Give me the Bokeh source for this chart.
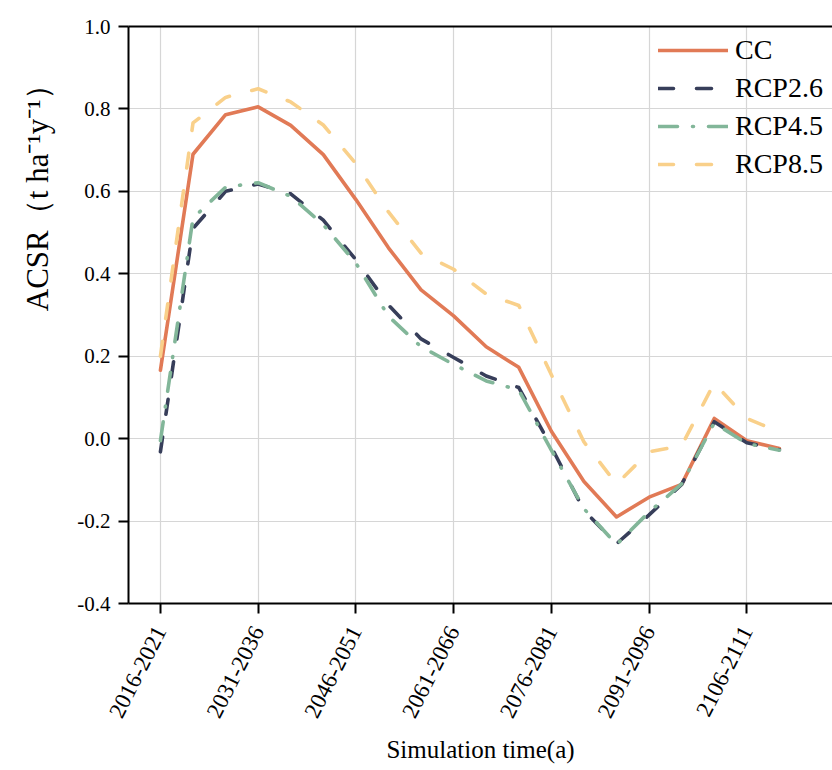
import math
from bokeh.plotting import figure
from bokeh.models import Range1d, FixedTicker, LinearAxis, Legend, LegendItem, ColumnDataSource, Title
from bokeh.embed import file_html
from bokeh.resources import INLINE

periods = ["2016-2021", "2021-2026", "2026-2031", "2031-2036", "2036-2041",
           "2041-2046", "2046-2051", "2051-2056", "2056-2061", "2061-2066",
           "2066-2071", "2071-2076", "2076-2081", "2081-2086", "2086-2091",
           "2091-2096", "2096-2101", "2101-2106", "2106-2111", "2111-2116"]
cc = [0.166, 0.69, 0.786, 0.805, 0.76, 0.689, 0.58, 0.463, 0.361, 0.298,
      0.223, 0.173, 0.018, -0.104, -0.19, -0.142, -0.111, 0.049, -0.005, -0.024]
rcp26 = [-0.032, 0.51, 0.60, 0.618, 0.594, 0.53, 0.434, 0.324, 0.242, 0.197,
         0.152, 0.124, -0.02, -0.174, -0.255, -0.185, -0.111, 0.041, -0.01, -0.027]
rcp45 = [-0.005, 0.535, 0.61, 0.621, 0.588, 0.519, 0.426, 0.297, 0.223, 0.18,
         0.14, 0.118, -0.028, -0.17, -0.257, -0.178, -0.11, 0.038, -0.012, -0.028]
rcp85 = [0.20, 0.766, 0.828, 0.849, 0.817, 0.761, 0.667, 0.55, 0.45, 0.411,
         0.351, 0.323, 0.155, -0.008, -0.11, -0.032, -0.017, 0.135, 0.049, 0.016]
series_names = ["CC", "RCP2.6", "RCP4.5", "RCP8.5"]
y_ticks = [-0.4, -0.2, 0.0, 0.2, 0.4, 0.6, 0.8, 1.0]
x_tick_idx = [0, 3, 6, 9, 12, 15, 18]

FONT = "Liberation Serif"
idx = list(range(len(periods)))
src = ColumnDataSource(dict(x=idx, cc=cc, r26=rcp26, r45=rcp45, r85=rcp85))

p = figure(width=832, height=768, output_backend="svg", toolbar_location=None,
           x_range=Range1d(-0.98, 20.63), y_range=Range1d(-0.4, 1.0),
           min_border_left=128, min_border_right=0, min_border_top=26,
           min_border_bottom=165, x_axis_location="below")
p.outline_line_color = None
p.background_fill_color = "white"

styles = [
    dict(col="cc", color="#E17A56", dash="solid"),
    dict(col="r26", color="#373E5A", dash="15 23"),
    dict(col="r45", color="#82B699", dash="19 15 1 15"),
    dict(col="r85", color="#F9D08A", dash="15 23"),
]
items = []
for name, st in zip(series_names, styles):
    r = p.line("x", st["col"], source=src, line_color=st["color"], line_width=3.6,
               line_dash=st["dash"], line_cap="round", line_join="round")
    items.append(LegendItem(label=name, renderers=[r]))

# axes
xa = p.xaxis[0]
xa.ticker = FixedTicker(ticks=x_tick_idx)
xa.major_label_overrides = {i: periods[i] for i in x_tick_idx}
xa.major_label_orientation = 1.1
xa.axis_label = "Simulation time(a)"
ya = p.yaxis[0]
ya.ticker = FixedTicker(ticks=y_ticks)
ya.major_label_overrides = {v: f"{v:.1f}" for v in y_ticks}
for ax in (xa, ya):
    ax.axis_line_width = 2
    ax.axis_line_color = "black"
    ax.major_tick_line_width = 2
    ax.major_tick_line_color = "black"
    ax.major_tick_out = 10
    ax.major_tick_in = 0
    ax.minor_tick_line_color = None
    ax.major_label_text_font = FONT
    ax.major_label_text_color = "black"
    ax.axis_label_text_font = FONT
    ax.axis_label_text_font_style = "normal"
    ax.axis_label_text_color = "black"
ya.major_label_text_font_size = "21px"
ya.major_label_standoff = 8
xa.major_label_text_font_size = "23px"
xa.major_label_standoff = 14
xa.axis_label_text_font_size = "25px"
xa.axis_label_standoff = 10

ytitle = Title(text="ACSR（t ha⁻¹y⁻¹）", align="right", offset=42,
               vertical_align="top",
               text_font=FONT, text_font_size="31px", text_font_style="normal",
               text_color="black", standoff=36)
p.add_layout(ytitle, "left")

top = LinearAxis(ticker=FixedTicker(ticks=[]), axis_line_width=2, axis_line_color="black",
                 major_tick_line_color=None, minor_tick_line_color=None,
                 major_label_text_color=None)
p.add_layout(top, "above")

p.xgrid.grid_line_color = "#d6d6d6"
p.ygrid.grid_line_color = "#d6d6d6"
p.xgrid.grid_line_width = 1.2
p.ygrid.grid_line_width = 1.2

legend = Legend(items=items, location=(530, 423), padding=0, margin=0,
                background_fill_alpha=0, border_line_color=None,
                glyph_width=70, glyph_height=28, label_height=28, spacing=6,
                label_standoff=7, label_text_font=FONT, label_text_font_size="28px",
                label_text_color="black")
p.add_layout(legend, "center")

open("out.html", "w").write(file_html(p, INLINE))
